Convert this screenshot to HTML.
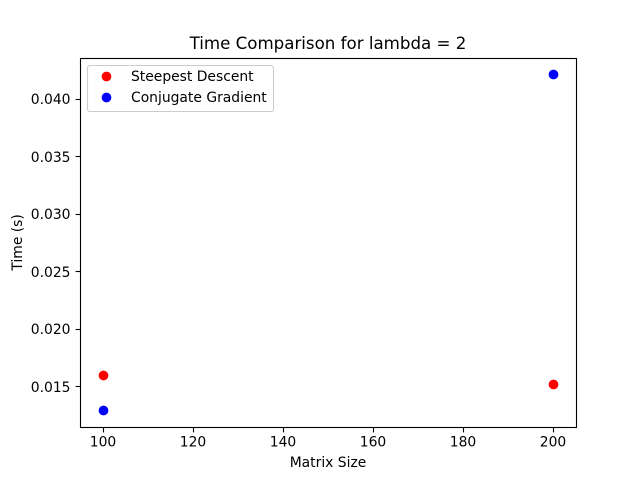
<!DOCTYPE html>
<html>
<head>
<meta charset="utf-8">
<style>
html,body{margin:0;padding:0;background:#fff;}
svg{display:block;}
text{font-family:"DejaVu Sans","Liberation Sans",sans-serif;font-size:13.89px;fill:#000;}
</style>
</head>
<body>
<svg id="chart" xmlns="http://www.w3.org/2000/svg" width="640" height="480" viewBox="0 0 640 480">
  <rect x="0" y="0" width="640" height="480" fill="#fff"/>
  <rect x="80.5" y="58.5" width="496" height="369" fill="#fff"/>
  <g id="ticks"></g>
  <g id="marks"></g>
  <rect x="80.5" y="58.5" width="496" height="369" fill="none" stroke="#000" stroke-width="1.11"/>
  <text x="328" y="49" text-anchor="middle" style="font-size:16.67px">Time Comparison for lambda = 2</text>
  <text x="328" y="467" text-anchor="middle">Matrix Size</text>
  <text transform="translate(22,242.4) rotate(-90)" text-anchor="middle">Time (s)</text>
  <g>
    <rect x="87.5" y="65.5" width="186" height="46" rx="2.5" ry="2.5" fill="#fff" fill-opacity="0.8" stroke="#ccc" stroke-width="1.11"/>
    <g>
      <circle cx="106.5" cy="76.5" r="4.17" fill="#f00" stroke="#f00" stroke-width="1.39"/>
      <text x="131" y="81">Steepest Descent</text>
    </g>
    <g>
      <circle cx="106.5" cy="97.5" r="4.17" fill="#00f" stroke="#00f" stroke-width="1.39"/>
      <text x="131" y="102">Conjugate Gradient</text>
    </g>
  </g>
</svg>
<script>
const matrixSizes = [100, 200];
const steepestDescentTimes = [0.015958, 0.015174];
const conjugateGradientTimes = [0.012894, 0.042137];
const xTickValues = [100, 120, 140, 160, 180, 200];
const xTickLabels = ["100", "120", "140", "160", "180", "200"];
const yTickValues = [0.015, 0.020, 0.025, 0.030, 0.035, 0.040];
const yTickLabels = ["0.015", "0.020", "0.025", "0.030", "0.035", "0.040"];

const SVG_NS = "http://www.w3.org/2000/svg";
const plotLeft = 80, plotRight = 576, plotTop = 57.6, plotBottom = 427.2;
const xMin = 95, xMax = 205, yMin = 0.011432, yMax = 0.043599;

function xScale(v) {
  return plotLeft + (v - xMin) / (xMax - xMin) * (plotRight - plotLeft);
}
function yScale(v) {
  return plotBottom - (v - yMin) / (yMax - yMin) * (plotBottom - plotTop);
}
function snap(p) {
  return Math.round(p) + 0.5;
}
function make(tag, parent, props) {
  const el = document.createElementNS(SVG_NS, tag);
  for (const k in props) el.setAttribute(k, props[k]);
  parent.appendChild(el);
  return el;
}

const ticksGroup = document.getElementById("ticks");
const marksGroup = document.getElementById("marks");

xTickValues.forEach(function (v, i) {
  const x = snap(xScale(v));
  const tick = make("line", ticksGroup, {x1: x, x2: x, y1: 427.5, y2: 432.4, stroke: "#000", "stroke-width": 1.11});
  
  
  const label = make("text", ticksGroup, {x: x - 0.5, y: 446.5, "text-anchor": "middle"});
  
  
  label.textContent = xTickLabels[i];
});

yTickValues.forEach(function (v, i) {
  const rawY = yScale(v);
  const y = snap(rawY);
  const tick = make("line", ticksGroup, {x1: 75.6, x2: 80.5, y1: y, y2: y, stroke: "#000", "stroke-width": 1.11});
  
  
  const label = make("text", ticksGroup, {x: 70.5, y: Math.round(rawY + 5.3), "text-anchor": "end"});
  
  
  label.textContent = yTickLabels[i];
});

matrixSizes.forEach(function (size, i) {
  const red = make("circle", marksGroup, {cx: snap(xScale(size)), cy: snap(yScale(steepestDescentTimes[i])), r: 4.17, fill: "#f00", stroke: "#f00", "stroke-width": 1.39});
  
  
});
matrixSizes.forEach(function (size, i) {
  const blue = make("circle", marksGroup, {cx: snap(xScale(size)), cy: snap(yScale(conjugateGradientTimes[i])), r: 4.17, fill: "#00f", stroke: "#00f", "stroke-width": 1.39});
  
  
});
</script>
</body>
</html>
